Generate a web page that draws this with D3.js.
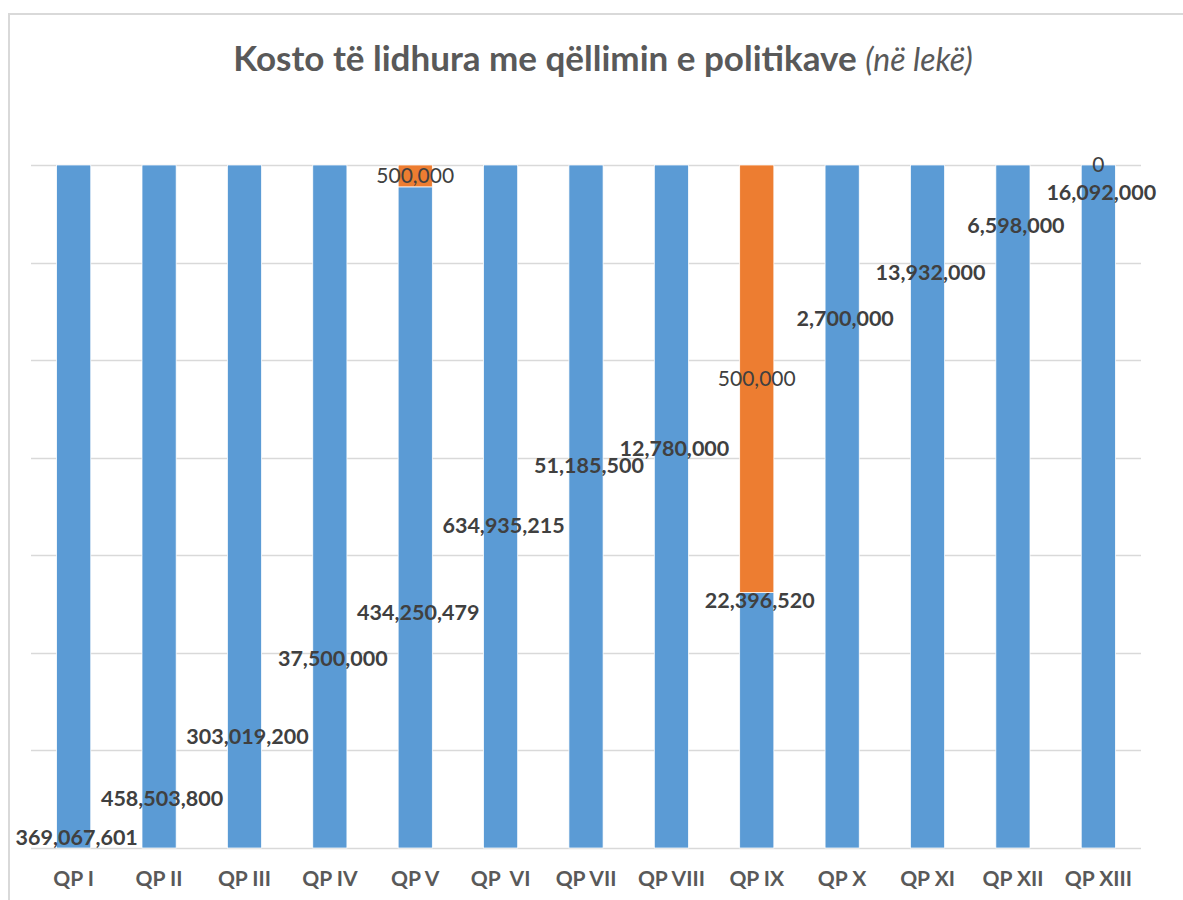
<!DOCTYPE html>
<html>
<head>
<meta charset="utf-8">
<script src="https://cdn.jsdelivr.net/npm/d3@7"></script>
<style>
  body { margin: 0; background: #fff; }
  text { font-family: Lato, "Open Sans", sans-serif; }
</style>
</head>
<body>
<script>
// categories and values (lekë)
const categories = ["QP I", "QP II", "QP III", "QP IV", "QP V", "QP  VI", "QP VII",
  "QP VIII", "QP IX", "QP X", "QP XI", "QP XII", "QP XIII"];
const blueCost = [369067601, 458503800, 303019200, 37500000, 434250479, 634935215,
  51185500, 12780000, 22396520, 2700000, 13932000, 6598000, 16092000];
const orangeCost = [null, null, null, null, 500000, null, null, null, 500000, null, null, null, 0];
// share of the bar taken by the orange part (% of bar height, as drawn)
const orangeShare = [0, 0, 0, 0, 3.2, 0, 0, 0, 62.6, 0, 0, 0, 0];
// where the blue label sits (% of bar height)
const blueLabelAt = [1.6, 7.3, 16.4, 27.7, 34.5, 47.2, 56.0, 58.5, 36.2, 77.6, 84.3, 91.2, 96.0];
const gridTicks = d3.range(0, 8).map(i => i * 100 / 7);

const W = 1183, H = 900;
const margin = { top: 165, right: 42, bottom: 52, left: 31 };

const svg = d3.select("body").append("svg")
  .attr("width", W)
  .attr("height", H);

// chart frame
svg.append("rect")
  .attr("x", 9).attr("y", 14)
  .attr("width", W + 10).attr("height", H + 10)
  .attr("fill", "none")
  .attr("stroke", "#d9d9d9")
  .attr("stroke-width", 2);

const x = d3.scaleBand()
  .domain(categories)
  .range([margin.left, W - margin.right])
  .paddingInner(0.6)
  .paddingOuter(0.3);

const y = d3.scaleLinear()
  .domain([0, 100])
  .range([H - margin.bottom, margin.top]);

// title
const title = svg.append("text")
  .attr("x", 603)
  .attr("y", 71)
  .attr("text-anchor", "middle")
  .attr("fill", "#595959")
  .style("font-size", "35px");
title.append("tspan").attr("font-weight", "bold").text("Kosto të lidhura me qëllimin e politikave ");
title.append("tspan").attr("font-style", "italic").style("font-size", "32px").text("(në lekë)");

// gridlines
svg.append("g")
  .selectAll("line")
  .data(gridTicks)
  .join("line")
  .attr("x1", margin.left)
  .attr("x2", W - margin.right)
  .attr("y1", d => Math.round(y(d)) + 0.5)
  .attr("y2", d => Math.round(y(d)) + 0.5)
  .attr("stroke", "#d9d9d9")
  .attr("stroke-width", 1.5);

// blue segments
svg.append("g")
  .selectAll("rect")
  .data(categories)
  .join("rect")
  .attr("x", d => x(d))
  .attr("width", x.bandwidth())
  .attr("y", (d, i) => y(100 - orangeShare[i]))
  .attr("height", (d, i) => y(0) - y(100 - orangeShare[i]))
  .attr("fill", "#5b9bd5")
  .attr("stroke", "#fff")
  .attr("stroke-width", 0.75);

// orange segments
svg.append("g")
  .selectAll("rect")
  .data(categories)
  .join("rect")
  .attr("x", d => x(d))
  .attr("width", x.bandwidth())
  .attr("y", y(100))
  .attr("height", (d, i) => y(100 - orangeShare[i]) - y(100))
  .attr("fill", "#ed7d31")
  .attr("stroke", "#fff")
  .attr("stroke-width", 0.75);

const fmt = d3.format(",");

// blue labels
svg.append("g")
  .selectAll("text")
  .data(categories)
  .join("text")
  .attr("x", d => x(d) + x.bandwidth() / 2 + 3)
  .attr("y", (d, i) => y(blueLabelAt[i]))
  .attr("dy", "0.35em")
  .attr("text-anchor", "middle")
  .attr("font-weight", "bold")
  .attr("fill", "#404040")
  .style("font-size", "21.5px")
  .text((d, i) => fmt(blueCost[i]));

// orange labels (center of orange part)
svg.append("g")
  .selectAll("text")
  .data(categories.filter((d, i) => orangeCost[i] !== null))
  .join("text")
  .attr("x", d => x(d) + x.bandwidth() / 2)
  .attr("y", d => {
    const i = categories.indexOf(d);
    return y(100 - orangeShare[i] / 2);
  })
  .attr("dy", "0.35em")
  .attr("text-anchor", "middle")
  .attr("fill", "#404040")
  .style("font-size", "21px")
  .text(d => fmt(orangeCost[categories.indexOf(d)]));

// category axis
const xAxis = svg.append("g")
  .attr("transform", "translate(0," + (H - margin.bottom) + ")")
  .call(d3.axisBottom(x).tickSize(0).tickPadding(23));
xAxis.select(".domain").remove();
xAxis.selectAll("text")
  .attr("fill", "#595959")
  .attr("font-weight", "bold")
  .style("font-size", "21px")
  .style("font-family", "Lato, 'Open Sans', sans-serif")
  .style("white-space", "pre");
</script>
</body>
</html>
